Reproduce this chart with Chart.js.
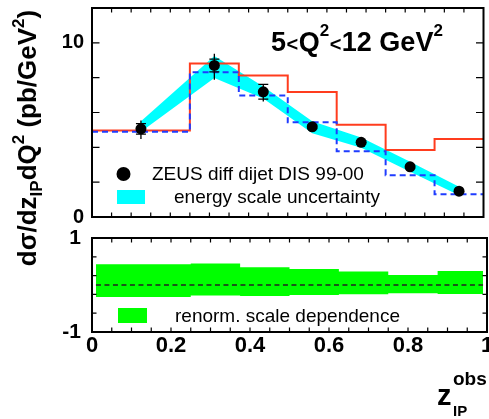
<!DOCTYPE html>
<html>
<head>
<meta charset="utf-8">
<script src="https://cdn.jsdelivr.net/npm/chart.js@4"></script>
<style>
  html, body { margin: 0; padding: 0; background: #fff; }
  #wrap { position: relative; width: 489px; height: 419px; overflow: hidden; }
  #wrap canvas { position: absolute; left: 0; top: 0; }
</style>
</head>
<body>
<div id="wrap">
  <canvas id="upper" width="489" height="419"></canvas>
  <canvas id="lower" width="489" height="419"></canvas>
</div>
<script>
const FAMILY = "'Liberation Sans', Arial, Helvetica, sans-serif";

// z_IP^obs binning
const binEdges = [0, 0.25, 0.375, 0.5, 0.625, 0.75, 0.875, 1.0];
const binCentres = [0.125, 0.3125, 0.4375, 0.5625, 0.6875, 0.8125, 0.9375];

// measured cross section (pb/GeV^2) with inner (stat) and total errors
const zeusValues = [5.06, 8.70, 7.19, 5.18, 4.29, 2.88, 1.48];
const zeusStat = [0.30, 0.37, 0.42, 0.10, 0.10, 0.08, 0.06];
const zeusErrUp = [0.48, 0.68, 0.45, 0.20, 0.18, 0.15, 0.12];
const zeusErrDown = [0.58, 0.82, 0.56, 0.20, 0.18, 0.15, 0.12];

// energy scale uncertainty band
const energyUpper = [5.50, 9.25, 7.50, 5.50, 4.56, 3.17, 1.73];
const energyLower = [4.90, 7.98, 6.80, 4.81, 3.98, 2.60, 1.25];

// calculations, one value per bin
const redPrediction = [4.96, 8.82, 8.12, 7.18, 5.29, 3.85, 4.48];
const bluePrediction = [4.90, 8.31, 6.97, 5.44, 3.78, 2.40, 1.30];

// relative renormalisation scale dependence
const renormEdges = [0.01, 0.25, 0.375, 0.5, 0.625, 0.75, 0.875, 0.99];
const renormUpper = [0.443, 0.456, 0.379, 0.343, 0.285, 0.214, 0.300];
const renormLower = [-0.257, -0.221, -0.236, -0.214, -0.199, -0.178, -0.193];

// labelled ticks
const upperYLabels = [0, 10];
const lowerYLabels = [-1, 1];
const xLabels = [0, 0.2, 0.4, 0.6, 0.8, 1];

const CYAN = '#00ffff';
const GREEN = '#00ff00';
const RED = '#ff3c1e';
const BLUE = '#1f3cff';

function steps(edges, values) {
  return edges.map((e, i) => ({ x: e, y: values[Math.min(i, values.length - 1)] }));
}
function points(xs, ys) {
  return xs.map((x, i) => ({ x, y: ys[i] }));
}

// draw a run of text pieces with individual size / vertical shift
function drawRich(ctx, parts, x, y, align) {
  let total = 0;
  parts.forEach(p => {
    ctx.font = `${p.weight || 'bold'} ${p.size}px ${FAMILY}`;
    p.w = ctx.measureText(p.t).width + (p.gap || 0);
    total += p.w;
  });
  let cx = align === 'center' ? x - total / 2 : x;
  parts.forEach(p => {
    ctx.font = `${p.weight || 'bold'} ${p.size}px ${FAMILY}`;
    ctx.fillText(p.t, cx + (p.gap || 0) / 2, y + (p.dy || 0));
    cx += p.w;
  });
}

// frame with inward ticks on all four sides
const framePlugin = {
  id: 'frame',
  afterDatasetsDraw(chart, args, opts) {
    const { ctx, chartArea: a, scales: { x, y } } = chart;
    ctx.save();
    ctx.strokeStyle = '#000';
    ctx.lineWidth = 1.2;
    ctx.beginPath();
    x.ticks.forEach(t => {
      const px = x.getPixelForValue(t.value);
      if (px <= a.left + 1 || px >= a.right - 1) return;
      ctx.moveTo(px, a.top); ctx.lineTo(px, a.top + opts.xTick);
      ctx.moveTo(px, a.bottom); ctx.lineTo(px, a.bottom - opts.xTick);
    });
    y.ticks.forEach(t => {
      const py = y.getPixelForValue(t.value);
      if (py <= a.top + 1 || py >= a.bottom - 1) return;
      ctx.moveTo(a.left, py); ctx.lineTo(a.left + opts.yTick, py);
      ctx.moveTo(a.right, py); ctx.lineTo(a.right - opts.yTick, py);
    });
    ctx.stroke();
    ctx.lineWidth = 2;
    ctx.strokeRect(a.left, a.top, a.right - a.left, a.bottom - a.top);
    ctx.restore();
  }
};

const POINTS_INDEX = 4;

// vertical error bars with inner ticks, drawn just before the markers
const errorBarPlugin = {
  id: 'errorBars',
  beforeDatasetDraw(chart, args) {
    if (args.index !== POINTS_INDEX) return;
    const { ctx, scales: { x, y } } = chart;
    ctx.save();
    ctx.strokeStyle = '#000';
    ctx.lineWidth = 1.3;
    ctx.beginPath();
    binCentres.forEach((xv, i) => {
      const px = x.getPixelForValue(xv);
      ctx.moveTo(px, y.getPixelForValue(zeusValues[i] + zeusErrUp[i]));
      ctx.lineTo(px, y.getPixelForValue(zeusValues[i] - zeusErrDown[i]));
      [zeusValues[i] + zeusStat[i], zeusValues[i] - zeusStat[i]].forEach(v => {
        const py = y.getPixelForValue(v);
        ctx.moveTo(px - 5, py); ctx.lineTo(px + 5, py);
      });
    });
    ctx.stroke();
    ctx.restore();
  }
};

const upperText = {
  id: 'upperText',
  afterDraw(chart) {
    const ctx = chart.ctx;
    const ds = chart.data.datasets;
    ctx.save();
    ctx.fillStyle = '#000';
    ctx.textBaseline = 'alphabetic';

    // Q^2 range
    drawRich(ctx, [
      { t: '5', size: 27 },
      { t: '<', size: 20, gap: 1 },
      { t: 'Q', size: 27 },
      { t: '2', size: 17, dy: -15 },
      { t: '<', size: 20, gap: 1 },
      { t: '12 GeV', size: 27 },
      { t: '2', size: 17, dy: -15 }
    ], 271, 51);

    // legend
    ctx.beginPath();
    ctx.arc(123.5, 174, 7, 0, Math.PI * 2);
    ctx.fill();
    ctx.font = `19px ${FAMILY}`;
    ctx.fillText(ds[POINTS_INDEX].label, 152, 180);
    ctx.fillStyle = CYAN;
    ctx.fillRect(117, 190, 28, 14);
    ctx.fillStyle = '#000';
    ctx.font = `19px ${FAMILY}`;
    ctx.fillText(ds[0].label, 174, 203);

    // y axis title
    ctx.translate(36, 138);
    ctx.rotate(-Math.PI / 2);
    drawRich(ctx, [
      { t: 'd\u03c3/dz', size: 26 },
      { t: 'IP', size: 17, dy: 6 },
      { t: 'dQ', size: 26 },
      { t: '2', size: 17, dy: -12 },
      { t: ' (pb/GeV', size: 26 },
      { t: '2', size: 17, dy: -12 },
      { t: ')', size: 26 }
    ], 0, 0, 'center');
    ctx.restore();
  }
};

const lowerText = {
  id: 'lowerText',
  afterDraw(chart) {
    const ctx = chart.ctx;
    const ds = chart.data.datasets;
    ctx.save();
    ctx.textBaseline = 'alphabetic';
    ctx.fillStyle = GREEN;
    ctx.fillRect(118, 308, 29, 15);
    ctx.fillStyle = '#000';
    ctx.font = `19px ${FAMILY}`;
    ctx.fillText(ds[0].label, 175, 322);

    // x axis title
    drawRich(ctx, [{ t: 'z', size: 29 }], 437, 405);
    drawRich(ctx, [{ t: 'obs', size: 19 }], 453, 385);
    drawRich(ctx, [{ t: 'IP', size: 15 }], 453, 416);
    ctx.restore();
  }
};

const baseLine = { tension: 0, pointRadius: 0, pointHoverRadius: 0 };

new Chart(document.getElementById('upper'), {
  type: 'line',
  data: {
    datasets: [
      Object.assign({}, baseLine, {
        label: 'energy scale uncertainty',
        data: points(binCentres, energyUpper),
        borderWidth: 0, borderColor: 'rgba(0,0,0,0)',
        backgroundColor: CYAN, fill: '+1', order: 4
      }),
      Object.assign({}, baseLine, {
        label: 'energy scale lower',
        data: points(binCentres, energyLower),
        borderWidth: 0, borderColor: 'rgba(0,0,0,0)', fill: false, order: 4
      }),
      Object.assign({}, baseLine, {
        label: 'calculation A',
        data: steps(binEdges, redPrediction),
        stepped: 'before', borderColor: RED, borderWidth: 2, fill: false, order: 2
      }),
      Object.assign({}, baseLine, {
        label: 'calculation B',
        data: steps(binEdges, bluePrediction),
        stepped: 'before', borderColor: BLUE, borderWidth: 2, borderDash: [6, 4], fill: false, order: 1
      }),
      {
        label: 'ZEUS diff dijet DIS 99-00',
        data: points(binCentres, zeusValues),
        showLine: false, pointRadius: 5.5, pointHoverRadius: 5.5,
        pointBackgroundColor: '#000', pointBorderColor: '#000', pointBorderWidth: 0, order: 0
      }
    ]
  },
  options: {
    responsive: false, animation: false, events: [],
    layout: { padding: { top: 8, right: 2, left: 0, bottom: 0 } },
    plugins: { legend: { display: false }, tooltip: { enabled: false }, frame: { xTick: 4.5, yTick: 7.5 } },
    scales: {
      x: {
        type: 'linear', min: 0, max: 1,
        ticks: { display: false, stepSize: 0.05 },
        grid: { display: false, drawTicks: false }, border: { display: false },
        afterFit(s) { s.height = 202; s.paddingLeft = 0; s.paddingRight = 0; }
      },
      y: {
        type: 'linear', min: 0, max: 12,
        ticks: {
          stepSize: 2, padding: 8, color: '#000', autoSkip: false,
          font: { family: FAMILY, size: 20, weight: 'bold' },
          callback: v => upperYLabels.includes(v) ? String(v) : ''
        },
        grid: { display: false, drawTicks: false }, border: { display: false },
        afterFit(s) { s.width = 92; s.paddingTop = 0; s.paddingBottom = 0; }
      }
    }
  },
  plugins: [framePlugin, errorBarPlugin, upperText]
});

new Chart(document.getElementById('lower'), {
  type: 'line',
  data: {
    datasets: [
      Object.assign({}, baseLine, {
        label: 'renorm. scale dependence',
        data: steps(renormEdges, renormUpper),
        stepped: 'before', borderWidth: 0, borderColor: 'rgba(0,0,0,0)',
        backgroundColor: GREEN, fill: '+1', order: 2
      }),
      Object.assign({}, baseLine, {
        label: 'renorm. scale lower',
        data: steps(renormEdges, renormLower),
        stepped: 'before', borderWidth: 0, borderColor: 'rgba(0,0,0,0)', fill: false, order: 2
      }),
      Object.assign({}, baseLine, {
        label: 'zero',
        data: [{ x: renormEdges[0], y: 0 }, { x: renormEdges[renormEdges.length - 1], y: 0 }],
        borderColor: '#222', borderWidth: 1.3, borderDash: [5, 3.5], fill: false, order: 1
      })
    ]
  },
  options: {
    responsive: false, animation: false, events: [],
    layout: { padding: { top: 238, right: 2, left: 0, bottom: 0 } },
    plugins: { legend: { display: false }, tooltip: { enabled: false }, frame: { xTick: 4.5, yTick: 4.5 } },
    scales: {
      x: {
        type: 'linear', min: 0, max: 1,
        ticks: {
          stepSize: 0.05, padding: 1, color: '#000', autoSkip: false, maxRotation: 0,
          font: { family: FAMILY, size: 22, weight: 'bold' },
          callback: v => {
            const k = xLabels.find(l => Math.abs(l - v) < 1e-6);
            return k === undefined ? '' : String(k);
          }
        },
        grid: { display: false, drawTicks: false }, border: { display: false },
        afterFit(s) { s.height = 87; s.paddingLeft = 0; s.paddingRight = 0; }
      },
      y: {
        type: 'linear', min: -1, max: 1,
        ticks: {
          stepSize: 0.4, padding: 11, color: '#000', autoSkip: false,
          font: { family: FAMILY, size: 21, weight: 'bold' },
          callback: v => lowerYLabels.includes(v) ? String(v) : ''
        },
        grid: { display: false, drawTicks: false }, border: { display: false },
        afterFit(s) { s.width = 92; s.paddingTop = 0; s.paddingBottom = 0; }
      }
    }
  },
  plugins: [framePlugin, lowerText]
});
</script>
</body>
</html>
